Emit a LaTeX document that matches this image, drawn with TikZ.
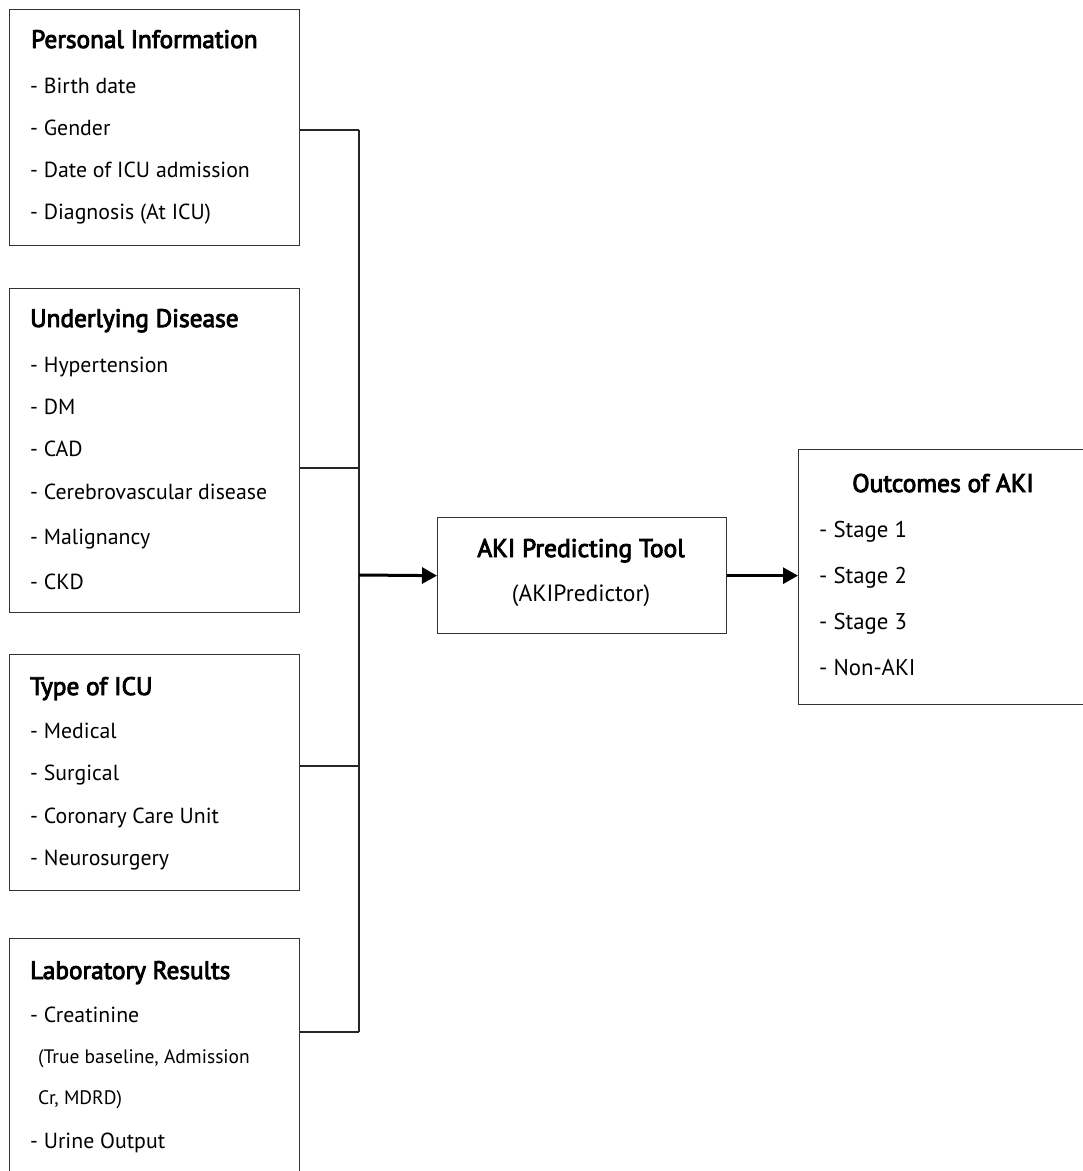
\documentclass[tikz,border=0pt]{standalone}
\usepackage{fontspec}
\setmainfont{PT Sans}
\newfontfamily\semib{PT Sans}[FakeBold=3.5]
\usetikzlibrary{arrows.meta}
\begin{document}
\begin{tikzpicture}[x=1pt,y=-1pt,
  box/.style={draw=black!80, line width=1.3pt, anchor=north west, inner sep=0pt},
  txt/.style={anchor=base west, inner sep=0pt, font=\fontsize{21.8}{22}\selectfont},
  ttl/.style={txt, font=\fontsize{25.3}{25}\semib},
  sml/.style={txt, font=\fontsize{19.5}{20}\selectfont},
  otxt/.style={txt, font=\fontsize{22.8}{23}\selectfont},
  conn/.style={draw=black!85, line width=1.3pt},
  arr/.style={draw=black, line width=3pt, -{Triangle[length=15pt,width=16pt]}}]
\useasboundingbox (0,0) rectangle (1083,1171);
% boxes
\node[box, minimum width=290pt, minimum height=236pt] (b1) at (9,9) {};
\node[box, minimum width=290pt, minimum height=324pt] (b2) at (9,288) {};
\node[box, minimum width=290pt, minimum height=236pt] (b3) at (9,654) {};
\node[box, minimum width=290pt, minimum height=250pt] (b4) at (9,938) {};
\node[box, minimum width=289pt, minimum height=116pt] (aki) at (437,517) {};
\node[box, minimum width=300pt, minimum height=255pt] (out) at (798,449) {};
% texts box 1
\node[ttl] (t11) at (31,48) {Personal Information};
\node[txt] (t12) at (30,93) {- Birth date};
\node[txt] (t13) at (30,135) {- Gender};
\node[txt] (t14) at (30,177) {- Date of ICU admission};
\node[txt] (t15) at (30,219) {- Diagnosis (At ICU)};
% box 2
\node[ttl] (t21) at (30,327) {Underlying Disease};
\node[txt] (t22) at (30,372) {- Hypertension};
\node[txt] (t23) at (30,414) {- DM};
\node[txt] (t24) at (30,456) {- CAD};
\node[txt] (t25) at (30,499) {- Cerebrovascular disease};
\node[txt] (t26) at (30,544) {- Malignancy};
\node[txt] (t27) at (30,589) {- CKD};
% box 3
\node[ttl] (t31) at (30,695) {Type of ICU};
\node[txt] (t32) at (30,738) {- Medical};
\node[txt] (t33) at (30,780) {- Surgical};
\node[txt] (t34) at (30,823) {- Coronary Care Unit};
\node[txt] (t35) at (30,865) {- Neurosurgery};
% box 4
\node[ttl] (t41) at (30,979) {Laboratory Results};
\node[txt] (t42) at (30,1022) {- Creatinine};
\node[sml] (t43) at (38,1063) {(True baseline, Admission};
\node[sml] (t44) at (38,1104) {Cr, MDRD)};
\node[txt] (t45) at (30,1148) {- Urine Output};
% AKI tool
\node[anchor=base, inner sep=0pt, font=\fontsize{25.5}{25}\semib] (a1) at (581,557) {AKI Predicting Tool};
\node[anchor=base, inner sep=0pt, font=\fontsize{23.5}{23}\selectfont] (a2) at (581,601) {(AKIPredictor)};
% outcomes
\node[anchor=base, inner sep=0pt, font=\fontsize{25.5}{25}\semib] (o1) at (943,492) {Outcomes of AKI};
\node[otxt] (o2) at (819,537) {- Stage 1};
\node[otxt] (o3) at (819,583) {- Stage 2};
\node[otxt] (o4) at (819,629) {- Stage 3};
\node[otxt] (o5) at (819,675) {- Non-AKI};
% connectors
\coordinate (c1) at (359,130);
\coordinate (c2) at (359,468);
\coordinate (c3) at (359,766);
\coordinate (c4) at (359,1032);
\coordinate (c5) at (359,575);
\draw[conn] (b1.east |- c1) -- (c1);
\draw[conn] (b2.east |- c2) -- (c2);
\draw[conn] (b3.east |- c3) -- (c3);
\draw[conn] (b4.east |- c4) -- (c4);
\draw[conn] (c1) -- (c4);
\draw[arr] (c5) -- (aki.west);
\draw[arr] (aki.east) -- (aki.east -| out.west);
\end{tikzpicture}
\end{document}
